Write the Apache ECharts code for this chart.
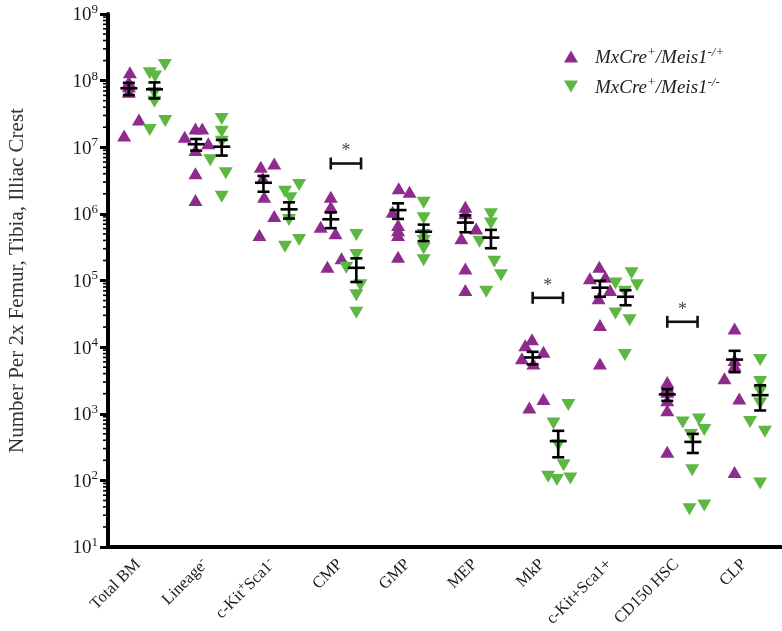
<!DOCTYPE html>
<html><head><meta charset="utf-8">
<script src="https://cdn.jsdelivr.net/npm/echarts@6/dist/echarts.min.js"></script>
<style>html,body{margin:0;padding:0;background:#fff}#c{width:782px;height:631px}</style>
</head><body><div id="c"></div>
<script>
// ---------------- data ----------------
const categories = ['Total BM','Lineage-','c-Kit+Sca1-','CMP','GMP','MEP','MkP','c-Kit+Sca1+','CD150 HSC','CLP'];
const categoryLabels = ['Total BM','Lineage{s|-}','c-Kit{s|+}Sca1{s|-}','CMP','GMP','MEP','MkP','c-Kit+Sca1+','CD150 HSC','CLP'];
const seriesNames = ['MxCre+/Meis1-/+','MxCre+/Meis1-/-'];
const seriesLabels = ['{i|MxCre}{s|+}{i|/Meis1}{s|-/+}','{i|MxCre}{s|+}{i|/Meis1}{s|-/-}'];

// MxCre+/Meis1-/+ individual values and horizontal jitter (category units)
const hetValues = [
  [1.33e8, 9.6e7, 8.2e7, 6.8e7, 2.6e7, 1.5e7],
  [1.92e7, 1.92e7, 1.44e7, 1.15e7, 9.1e6, 4.06e6, 1.61e6],
  [5.1e6, 5.7e6, 3.45e6, 1.81e6, 9.3e5, 4.8e5],
  [1.81e6, 1.28e6, 6.4e5, 5.1e5, 1.61e5, 2.15e5],
  [2.42e6, 2.15e6, 1.08e6, 6.8e5, 5.7e5, 4.8e5, 2.27e5],
  [1.28e6, 1.03e6, 6.05e5, 4.3e5, 1.52e5, 7.2e4],
  [1.31e4, 1.07e4, 8.5e3, 6.8e3, 5.7e3, 1.66e3, 1.24e3],
  [1.61e5, 1.08e5, 1.14e5, 7.2e4, 5.4e4, 2.14e4, 5.7e3],
  [3.0e3, 2.5e3, 2.13e3, 1.6e3, 1.13e3, 268],
  [1.91e4, 6.4e3, 5.3e3, 3.4e3, 1.7e3, 134]
];
const hetJitter = [
  [-0.175, -0.19, -0.19, -0.19, -0.04, -0.26],
  [-0.20, -0.10, -0.36, -0.01, -0.20, -0.20, -0.20],
  [-0.23, -0.03, -0.20, -0.18, -0.03, -0.25],
  [-0.19, -0.19, -0.34, -0.12, -0.24, -0.03],
  [-0.18, -0.02, -0.27, -0.19, -0.19, -0.19, -0.19],
  [-0.19, -0.19, -0.03, -0.25, -0.19, -0.19],
  [-0.20, -0.30, -0.03, -0.35, -0.18, -0.03, -0.24],
  [-0.20, -0.34, -0.11, -0.04, -0.21, -0.19, -0.19],
  [-0.19, -0.19, -0.19, -0.19, -0.19, -0.19],
  [-0.19, -0.19, -0.19, -0.34, -0.12, -0.19]
];
// MxCre+/Meis1-/- individual values and horizontal jitter
const koValues = [
  [1.71e8, 1.29e8, 1.15e8, 6.5e7, 4.8e7, 2.47e7, 1.81e7],
  [2.65e7, 1.71e7, 1.21e7, 6.4e6, 4.06e6, 1.81e6],
  [2.71e6, 2.15e6, 1.71e6, 8.1e5, 4.05e5, 3.2e5],
  [4.8e5, 2.41e5, 1.55e5, 8.5e4, 6.0e4, 3.27e4],
  [1.47e6, 8.6e5, 4.8e5, 3.9e5, 3.03e5, 2.02e5],
  [9.9e5, 7.2e5, 3.8e5, 1.91e5, 1.2e5, 6.8e4],
  [1350, 715, 338, 169, 113, 101, 107],
  [1.28e5, 8.5e4, 9.0e4, 6.8e4, 3.2e4, 2.54e4, 7.6e3],
  [740, 820, 568, 478, 142, 37, 42],
  [6.4e3, 3.0e3, 2.13e3, 1.43e3, 755, 535, 90]
];
const koJitter = [
  [0.345, 0.12, 0.20, 0.19, 0.19, 0.35, 0.12],
  [0.19, 0.19, 0.19, 0.02, 0.25, 0.19],
  [0.34, 0.13, 0.21, 0.19, 0.34, 0.13],
  [0.19, 0.19, 0.04, 0.25, 0.19, 0.19],
  [0.19, 0.19, 0.19, 0.19, 0.19, 0.19],
  [0.19, 0.19, 0.02, 0.24, 0.34, 0.12],
  [0.34, 0.12, 0.19, 0.27, 0.04, 0.17, 0.37],
  [0.28, 0.36, 0.04, 0.18, 0.04, 0.25, 0.18],
  [0.04, 0.28, 0.36, 0.16, 0.18, 0.14, 0.36],
  [0.19, 0.19, 0.19, 0.19, 0.04, 0.26, 0.19]
];
// mean +/- SEM
const hetMean = [7.66e7, 1.11e7, 2.93e6, 8.3e5, 1.14e6, 7.4e5, 7.0e3, 7.8e4, 1.95e3, 6.5e3];
const hetSem  = [1.6e7, 2.2e6, 7.8e5, 2.2e5, 3.0e5, 2.1e5, 1.5e3, 2.1e4, 390, 2.3e3];
const koMean  = [7.4e7, 1.02e7, 1.17e6, 1.55e5, 5.4e5, 4.4e5, 388, 5.7e4, 378, 1.9e3];
const koSem   = [2.0e7, 2.7e6, 3.2e5, 6.0e4, 1.5e5, 1.35e5, 166, 1.45e4, 120, 780];
// significance brackets
const sigCategory = [3, 6, 8];
const sigLevel = [5.7e6, 5.5e4, 2.4e4];
const sigText = ['*', '*', '*'];

// ---------------- style constants ----------------
const PURPLE = '#8E2B8D', GREEN = '#5DB843';
const GROUP_OFFSET = 0.19;
const UP = 'path://M7,0L14,12L0,12Z';
const DOWN = 'path://M0,0L14,0L7,12Z';
const SERIF = 'Liberation Serif';

function pts(vals, jit) {
  const out = [];
  vals.forEach((arr, i) => arr.forEach((v, j) => out.push([i + jit[i][j], v])));
  return out;
}
function errData(mean, sem, off) {
  return mean.map((m, i) => [i + off, m, sem[i]]);
}
// log-axis minor tick positions (2..9 x 10^n)
const minorTicks = [];
for (let e = 1; e < 9; e++) for (let k = 2; k <= 9; k++) minorTicks.push(k * Math.pow(10, e));

function errRender(params, api) {
  const x = api.value(0), m = api.value(1), s = api.value(2);
  const c = api.coord([x, m]);
  const hi = api.coord([x, m + s]);
  const lo = api.coord([x, m - s]);
  const st = {stroke: '#000', lineWidth: 2.6};
  return {type: 'group', children: [
    {type: 'line', shape: {x1: c[0], y1: hi[1], x2: c[0], y2: lo[1]}, style: st},
    {type: 'line', shape: {x1: c[0] - 6, y1: hi[1], x2: c[0] + 6, y2: hi[1]}, style: st},
    {type: 'line', shape: {x1: c[0] - 6, y1: lo[1], x2: c[0] + 6, y2: lo[1]}, style: st},
    {type: 'line', shape: {x1: c[0] - 8.5, y1: c[1], x2: c[0] + 8.5, y2: c[1]}, style: st}
  ]};
}
function sigRender(params, api) {
  const idx = api.value(0), v = api.value(1);
  const l = api.coord([idx - 0.19, v]);
  const r = api.coord([idx + 0.26, v]);
  const st = {stroke: '#111', lineWidth: 2.6};
  return {type: 'group', children: [
    {type: 'line', shape: {x1: l[0], y1: l[1], x2: r[0], y2: r[1]}, style: st},
    {type: 'line', shape: {x1: l[0], y1: l[1] - 6, x2: l[0], y2: l[1] + 6}, style: st},
    {type: 'line', shape: {x1: r[0], y1: r[1] - 6, x2: r[0], y2: r[1] + 6}, style: st},
    {type: 'text', style: {text: sigText[params.dataIndex], x: (l[0] + r[0]) / 2, y: l[1] - 12,
      fill: '#444', font: '18px "Liberation Serif"', textAlign: 'center', textVerticalAlign: 'middle'}}
  ]};
}
function minorRender(params, api) {
  const p = api.coord([-0.5, api.value(1)]);
  return {type: 'line', shape: {x1: p[0] - 5, y1: p[1], x2: p[0], y2: p[1]}, style: {stroke: '#000', lineWidth: 1.6}};
}

const chart = echarts.init(document.getElementById('c'), null, {renderer: 'canvas'});
chart.setOption({
  animation: false,
  backgroundColor: '#fff',
  grid: {left: 108, right: 1, top: 14, bottom: 84, containLabel: false, outerBoundsMode: 'none'},
  legend: {
    orient: 'vertical', left: 559, top: 41, itemWidth: 38, itemHeight: 12, itemGap: 9,
    data: [{name: seriesNames[0], icon: UP}, {name: seriesNames[1], icon: DOWN}],
    formatter: name => seriesLabels[seriesNames.indexOf(name)],
    textStyle: {
      fontFamily: SERIF, fontStyle: 'italic', fontSize: 19, color: '#222',
      rich: {
        i: {fontFamily: SERIF, fontStyle: 'italic', fontSize: 19, color: '#222', verticalAlign: 'bottom', lineHeight: 21},
        s: {fontFamily: SERIF, fontStyle: 'italic', fontSize: 13, color: '#222', verticalAlign: 'top', lineHeight: 21}
      }
    }
  },
  xAxis: [{
    type: 'category', data: categories, boundaryGap: true,
    axisLine: {onZero: false, lineStyle: {color: '#000', width: 4}},
    axisTick: {alignWithLabel: true, length: 8, lineStyle: {color: '#000', width: 3}},
    axisLabel: {
      rotate: 45, margin: 10, padding: [0, 6, 0, 0], color: '#1a1a1a', fontFamily: SERIF, fontSize: 16.5, interval: 0,
      formatter: (v, i) => '{b|' + categoryLabels[i].replace(/\{s\|([^}]*)\}/g, '}{s|$1}{b|') + '}',
      rich: {
        b: {fontFamily: SERIF, fontSize: 16.5, color: '#1a1a1a', verticalAlign: 'bottom', lineHeight: 19},
        s: {fontFamily: SERIF, fontSize: 12, color: '#1a1a1a', verticalAlign: 'top', lineHeight: 19}
      }
    },
    splitLine: {show: false}
  }, {
    type: 'value', min: -0.5, max: 9.5, show: false
  }],
  yAxis: {
    type: 'log', logBase: 10, min: 10, max: 1e9,
    name: 'Number Per 2x Femur, Tibia, Illiac Crest', nameLocation: 'middle', nameGap: 80,
    nameTextStyle: {fontFamily: SERIF, fontSize: 21, color: '#333'},
    axisLine: {show: true, onZero: false, lineStyle: {color: '#000', width: 4}},
    axisTick: {show: true, length: 8, lineStyle: {color: '#000', width: 3}},
    splitLine: {show: false},
    axisLabel: {
      margin: 10, color: '#1a1a1a',
      formatter: v => '{b|10}{s|' + Math.round(Math.log10(v)) + '}',
      rich: {
        b: {fontFamily: SERIF, fontSize: 19, color: '#1a1a1a', verticalAlign: 'bottom', lineHeight: 22},
        s: {fontFamily: SERIF, fontSize: 13, color: '#1a1a1a', verticalAlign: 'top', lineHeight: 22}
      }
    }
  },
  series: [
    {type: 'custom', xAxisIndex: 1, yAxisIndex: 0, silent: true, renderItem: minorRender,
      data: minorTicks.map(v => [-0.5, v]), clip: false, z: 5},
    {name: seriesNames[0], type: 'scatter', xAxisIndex: 1, yAxisIndex: 0, symbol: UP, symbolSize: [14, 12],
      itemStyle: {color: PURPLE, opacity: 1}, data: pts(hetValues, hetJitter), z: 2},
    {name: seriesNames[1], type: 'scatter', xAxisIndex: 1, yAxisIndex: 0, symbol: DOWN, symbolSize: [14, 12],
      itemStyle: {color: GREEN, opacity: 1}, data: pts(koValues, koJitter), z: 2},
    {type: 'custom', xAxisIndex: 1, yAxisIndex: 0, silent: true, renderItem: errRender,
      encode: {x: 0, y: 1}, data: errData(hetMean, hetSem, -GROUP_OFFSET), z: 3},
    {type: 'custom', xAxisIndex: 1, yAxisIndex: 0, silent: true, renderItem: errRender,
      encode: {x: 0, y: 1}, data: errData(koMean, koSem, GROUP_OFFSET), z: 3},
    {type: 'custom', xAxisIndex: 1, yAxisIndex: 0, silent: true, renderItem: sigRender,
      encode: {x: 0, y: 1}, data: sigCategory.map((c, i) => [c, sigLevel[i]]), z: 3}
  ]
});
</script>
</body></html>
